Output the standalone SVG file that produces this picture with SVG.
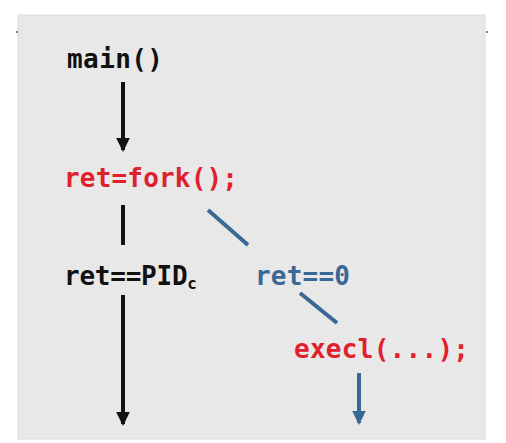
<svg xmlns="http://www.w3.org/2000/svg" width="506" height="443" viewBox="0 0 506 443">
<defs>
<style>
.t{font-family:"DejaVu Sans Mono","Liberation Mono",monospace;font-weight:bold;font-size:26px}
.k{fill:#111}
.r{fill:#e0202c}
.b{fill:#3a6894}
.lk{stroke:#111;stroke-width:4;fill:none}
.lb{stroke:#3a6894;stroke-width:4;fill:none}
</style>
<marker id="ak" markerWidth="4" markerHeight="4" refX="3" refY="2" orient="auto" markerUnits="strokeWidth"><path d="M0,0.3 L3.5,2 L0,3.7 Z" fill="#111"/></marker>
<marker id="ab" markerWidth="4" markerHeight="4" refX="3" refY="2" orient="auto" markerUnits="strokeWidth"><path d="M0,0.3 L3.5,2 L0,3.7 Z" fill="#3a6894"/></marker>
</defs>
<rect x="0" y="0" width="506" height="443" fill="#ffffff"/>
<rect x="18" y="15" width="467" height="424" fill="#e8e8e8" stroke="#dcdcdc" stroke-width="1"/>
<circle cx="17" cy="32" r="1" fill="#555"/>
<circle cx="487" cy="32" r="1" fill="#555"/>
<g id="connectors">
<line class="lk" x1="123" y1="82" x2="123" y2="150" marker-end="url(#ak)"/>
<line class="lk" x1="123" y1="205" x2="123" y2="245"/>
<line class="lb" x1="208" y1="210" x2="248" y2="245"/>
<line class="lk" x1="123" y1="295" x2="123" y2="424" marker-end="url(#ak)"/>
<line class="lb" x1="300" y1="293" x2="337" y2="323"/>
<line class="lb" x1="359" y1="373" x2="359" y2="423" marker-end="url(#ab)"/>
</g>
<g id="main"><text class="t k" x="67" y="68" textLength="96">main()</text></g>
<g id="fork"><text class="t r" x="64" y="187" textLength="174">ret=fork();</text></g>
<g id="parent"><text class="t k" x="64" y="285" textLength="133">ret==PID<tspan font-size="16" dy="4">c</tspan></text></g>
<g id="child"><text class="t b" x="255" y="285" textLength="95">ret==0</text></g>
<g id="execl"><text class="t r" x="294" y="358" textLength="175">execl(...);</text></g>
</svg>
